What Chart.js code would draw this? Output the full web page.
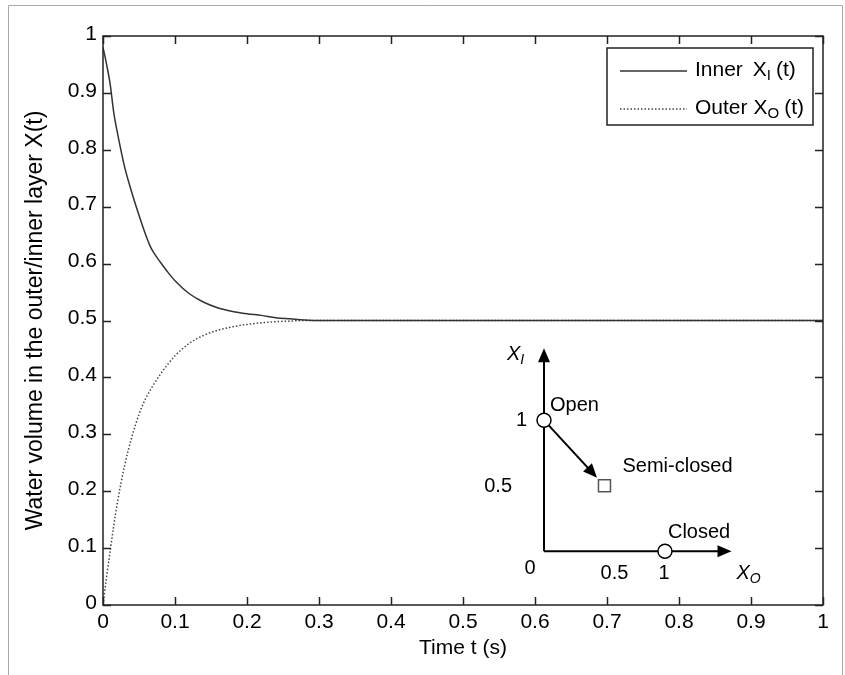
<!DOCTYPE html>
<html>
<head>
<meta charset="utf-8">
<script src="https://cdn.jsdelivr.net/npm/chart.js@4.4.1/dist/chart.umd.min.js"></script>
<style>
  html, body { margin: 0; padding: 0; background: #fff; }
  #wrap { width: 845px; height: 675px; position: relative; }
</style>
</head>
<body>
<div id="wrap"><canvas id="chart" width="845" height="675"></canvas></div>
<script>
// time samples (s) and the two water volume fractions
const times  = [0, 0.005, 0.01, 0.015, 0.02, 0.03, 0.04, 0.05, 0.06, 0.065, 0.07, 0.08, 0.09, 0.1,
                0.12, 0.14, 0.16, 0.18, 0.2, 0.22, 0.24, 0.26, 0.28, 0.3, 0.4, 0.5, 0.6, 0.7, 0.8, 0.9, 1.0];
const innerX = [0.98, 0.95, 0.915, 0.865, 0.83, 0.77, 0.725, 0.685, 0.648, 0.632, 0.62, 0.602, 0.585, 0.57,
                0.547, 0.532, 0.522, 0.516, 0.512, 0.509, 0.505, 0.503, 0.501, 0.5, 0.5, 0.5, 0.5, 0.5, 0.5, 0.5, 0.5];
const outerX = [0.0, 0.05, 0.095, 0.14, 0.18, 0.245, 0.295, 0.335, 0.365, 0.376, 0.387, 0.406, 0.423, 0.438,
                0.46, 0.474, 0.483, 0.489, 0.493, 0.496, 0.498, 0.499, 0.5, 0.5, 0.5, 0.5, 0.5, 0.5, 0.5, 0.5, 0.5];

const xTickLabels = ['0', '0.1', '0.2', '0.3', '0.4', '0.5', '0.6', '0.7', '0.8', '0.9', '1'];
const yTickLabels = ['0', '0.1', '0.2', '0.3', '0.4', '0.5', '0.6', '0.7', '0.8', '0.9', '1'];

// inset state diagram
const insetStates = ['Open', 'Semi-closed', 'Closed'];
const insetXO = [0, 0.5, 1];
const insetXI = [1, 0.5, 0];
const insetTicks = [0.5, 1];

const FONT = 'Arial, "Liberation Sans", Helvetica, sans-serif';
const INK = '#222';

const toPoints = (ys) => times.map((t, i) => ({ x: t, y: ys[i] }));

// figure border (light grey, open at the bottom)
const figureBorder = {
  id: 'figureBorder',
  beforeDraw(chart) {
    const ctx = chart.ctx;
    ctx.save();
    ctx.fillStyle = '#fff';
    ctx.fillRect(0, 0, chart.width, chart.height);
    ctx.strokeStyle = '#aaa';
    ctx.lineWidth = 1;
    ctx.beginPath();
    ctx.moveTo(8.5, chart.height);
    ctx.lineTo(8.5, 5.5);
    ctx.lineTo(842.5, 5.5);
    ctx.lineTo(842.5, chart.height);
    ctx.stroke();
    ctx.restore();
  }
};

// box around the axes with inward ticks on all four sides
const boxTicks = {
  id: 'boxTicks',
  afterDatasetsDraw(chart) {
    const { ctx, chartArea: a, scales } = chart;
    const len = 8;
    ctx.save();
    ctx.strokeStyle = INK;
    ctx.lineWidth = 1.5;
    ctx.strokeRect(a.left, a.top, a.right - a.left, a.bottom - a.top);
    ctx.beginPath();
    scales.x.ticks.forEach((tk, i) => {
      const px = Math.round(scales.x.getPixelForTick(i)) + 0.5;
      ctx.moveTo(px, a.bottom); ctx.lineTo(px, a.bottom - len);
      ctx.moveTo(px, a.top); ctx.lineTo(px, a.top + len);
    });
    scales.y.ticks.forEach((tk, i) => {
      const py = Math.round(scales.y.getPixelForTick(i)) + 0.5;
      ctx.moveTo(a.left, py); ctx.lineTo(a.left + len, py);
      ctx.moveTo(a.right, py); ctx.lineTo(a.right - len, py);
    });
    ctx.stroke();
    ctx.restore();
  }
};

// text with a subscript after a main symbol
const drawSub = (ctx, x, y, main, sub, size, italic) => {
  ctx.font = (italic ? 'italic ' : '') + size + 'px ' + FONT;
  ctx.fillText(main, x, y);
  const w = ctx.measureText(main).width;
  ctx.font = (italic ? 'italic ' : '') + Math.round(size * 0.72) + 'px ' + FONT;
  ctx.fillText(sub, x + w, y + size * 0.3);
  return x + w + ctx.measureText(sub).width;
};

// legend box in the upper right corner
const boxLegend = {
  id: 'boxLegend',
  afterDraw(chart) {
    const { ctx, chartArea: a } = chart;
    const right = a.right - 10, top = a.top + 12, w = 206, h = 77;
    const left = right - w;
    ctx.save();
    ctx.fillStyle = '#fff';
    ctx.fillRect(left, top, w, h);
    ctx.strokeStyle = INK;
    ctx.lineWidth = 1.5;
    ctx.strokeRect(left, top, w, h);
    const rows = [
      { ds: chart.data.datasets[0], word: 'Inner', sub: 'I', gap: 10 },
      { ds: chart.data.datasets[1], word: 'Outer', sub: 'O', gap: 6 }
    ];
    rows.forEach((r, i) => {
      const y = top + 22 + i * 38;
      ctx.strokeStyle = r.ds.borderColor;
      ctx.lineWidth = 1.3;
      ctx.setLineDash(r.ds.borderDash || []);
      ctx.beginPath();
      ctx.moveTo(left + 13, y + 1);
      ctx.lineTo(left + 80, y + 1);
      ctx.stroke();
      ctx.setLineDash([]);
      ctx.fillStyle = '#000';
      ctx.textBaseline = 'middle';
      ctx.textAlign = 'left';
      ctx.font = '21px ' + FONT;
      ctx.fillText(r.word, left + 88, y);
      const xx = left + 88 + ctx.measureText(r.word).width + r.gap;
      const end = drawSub(ctx, xx, y, 'X', r.sub, 21, false);
      ctx.font = '21px ' + FONT;
      ctx.fillText('(t)', end + 5, y);
    });
    ctx.restore();
  }
};

// inset: state diagram on (X_O, X_I) axes, placed in the plot's data space
const INSET_T0 = 0.6125, INSET_X0 = 0.0945;   // origin in main-axis units
const INSET_DT = 0.168, INSET_DX = 0.2302;     // one inset unit in main-axis units

const arrowHead = (ctx, x1, y1, x2, y2, len, half) => {
  const ang = Math.atan2(y2 - y1, x2 - x1);
  ctx.beginPath();
  ctx.moveTo(x2, y2);
  ctx.lineTo(x2 - len * Math.cos(ang) + half * Math.sin(ang), y2 - len * Math.sin(ang) - half * Math.cos(ang));
  ctx.lineTo(x2 - len * Math.cos(ang) - half * Math.sin(ang), y2 - len * Math.sin(ang) + half * Math.cos(ang));
  ctx.closePath();
  ctx.fill();
};

const stateInset = {
  id: 'stateInset',
  afterDraw(chart) {
    const { ctx, scales: { x, y } } = chart;
    const ox = x.getPixelForValue(INSET_T0);
    const oy = y.getPixelForValue(INSET_X0);
    const ux = x.getPixelForValue(INSET_T0 + INSET_DT) - ox;
    const uy = oy - y.getPixelForValue(INSET_X0 + INSET_DX);
    const px = (v) => ox + v * ux;
    const py = (v) => oy - v * uy;
    const reach = 1.55;

    ctx.save();
    ctx.strokeStyle = '#000';
    ctx.fillStyle = '#000';
    ctx.lineWidth = 2;
    ctx.beginPath();
    ctx.moveTo(ox, oy); ctx.lineTo(ox, py(reach) + 8);
    ctx.moveTo(ox, oy); ctx.lineTo(px(reach) - 8, oy);
    ctx.stroke();
    arrowHead(ctx, ox, oy, ox, py(reach), 14, 6);
    arrowHead(ctx, ox, oy, px(reach), oy, 14, 6);

    // transition arrow Open -> Semi-closed
    const sx = px(insetXO[0]), sy = py(insetXI[0]);
    const ex = px(insetXO[1]), ey = py(insetXI[1]);
    const d = Math.hypot(ex - sx, ey - sy);
    const dx = (ex - sx) / d, dy = (ey - sy) / d;
    const ax = sx + dx * 7, ay = sy + dy * 7;
    const bx = ex - dx * 11, by = ey - dy * 11;
    ctx.beginPath();
    ctx.moveTo(ax, ay); ctx.lineTo(bx - dx * 10, by - dy * 10);
    ctx.stroke();
    arrowHead(ctx, ax, ay, bx, by, 14, 6);

    // state markers
    insetStates.forEach((name, i) => {
      const mx = px(insetXO[i]), my = py(insetXI[i]);
      ctx.fillStyle = '#fff';
      if (name === 'Semi-closed') {
        ctx.strokeStyle = '#555';
        ctx.lineWidth = 1.5;
        ctx.fillRect(mx - 6, my - 6, 12, 12);
        ctx.strokeRect(mx - 6, my - 6, 12, 12);
      } else {
        ctx.strokeStyle = '#000';
        ctx.lineWidth = 1.5;
        ctx.beginPath();
        ctx.arc(mx, my, 7, 0, Math.PI * 2);
        ctx.fill();
        ctx.stroke();
      }
    });

    ctx.fillStyle = '#000';
    ctx.textBaseline = 'middle';
    ctx.font = '20px ' + FONT;
    ctx.textAlign = 'left';
    const labelOffsets = [[6, -15], [18, -19], [3, -19]];
    insetStates.forEach((name, i) => {
      ctx.fillText(name, px(insetXO[i]) + labelOffsets[i][0], py(insetXI[i]) + labelOffsets[i][1]);
    });

    // inset tick labels
    ctx.textAlign = 'right';
    ctx.fillText('1', ox - 17, py(insetTicks[1]));
    ctx.fillText('0.5', ox - 32, py(insetTicks[0]) + 1);
    ctx.textAlign = 'center';
    ctx.fillText('0', ox - 14, oy + 17);
    ctx.fillText('0.5', px(insetTicks[0]) + 10, oy + 22);
    ctx.fillText('1', px(insetTicks[1]) - 1, oy + 22);

    // axis names
    ctx.textAlign = 'left';
    drawSub(ctx, ox - 37, py(reach) + 6, 'X', 'I', 20, true);
    drawSub(ctx, px(reach) + 5, oy + 22, 'X', 'O', 20, true);
    ctx.restore();
  }
};

new Chart(document.getElementById('chart'), {
  type: 'line',
  data: {
    datasets: [
      {
        label: 'Inner X_I (t)',
        data: toPoints(innerX),
        borderColor: '#333',
        borderWidth: 1.5,
        pointRadius: 0,
        cubicInterpolationMode: 'monotone'
      },
      {
        label: 'Outer X_O (t)',
        data: toPoints(outerX),
        borderColor: '#444',
        borderWidth: 1.5,
        borderDash: [1.5, 2],
        pointRadius: 0,
        cubicInterpolationMode: 'monotone'
      }
    ]
  },
  options: {
    responsive: false,
    animation: false,
    devicePixelRatio: 1,
    layout: { padding: { left: 0, top: 36, right: 22, bottom: 0 } },
    plugins: {
      legend: { display: false },
      tooltip: { enabled: false }
    },
    scales: {
      x: {
        type: 'linear',
        min: 0,
        max: 1,
        afterFit: (s) => { s.height = 70; },
        ticks: {
          stepSize: 0.1,
          color: '#000',
          font: { family: FONT, size: 21 },
          padding: 5,
          maxRotation: 0,
          autoSkip: false,
          callback: (v, i) => xTickLabels[i]
        },
        grid: { drawOnChartArea: false, drawTicks: false },
        border: { display: false },
        title: {
          display: true,
          text: 'Time t (s)',
          color: '#000',
          font: { family: FONT, size: 21 },
          padding: { top: 0, bottom: 14 }
        }
      },
      y: {
        min: 0,
        max: 1,
        afterFit: (s) => { s.width = 103; },
        ticks: {
          stepSize: 0.1,
          color: '#000',
          font: { family: FONT, size: 21 },
          padding: 6,
          labelOffset: -2,
          autoSkip: false,
          callback: (v, i) => yTickLabels[i]
        },
        grid: { drawOnChartArea: false, drawTicks: false },
        border: { display: false },
        title: {
          display: true,
          text: 'Water volume in the outer/inner layer X(t)',
          color: '#000',
          font: { family: FONT, size: 23 },
          padding: { top: 22, bottom: 0 }
        }
      }
    }
  },
  plugins: [figureBorder, boxTicks, boxLegend, stateInset]
});
</script>
</body>
</html>
